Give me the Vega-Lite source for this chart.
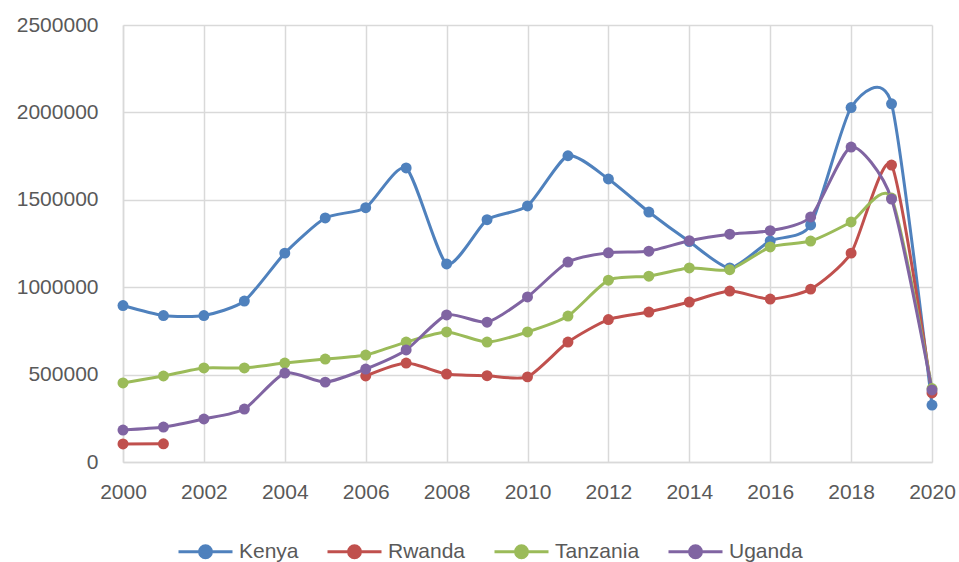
{
  "$schema": "https://vega.github.io/schema/vega-lite/v6.json",
  "width": 809,
  "height": 437,
  "autosize": {"type": "none"},
  "padding": {"left": 123, "top": 25, "right": 27, "bottom": 100},
  "background": "white",
  "config": {
    "view": {"stroke": null},
    "axis": {
      "labelFont": "Liberation Sans",
      "labelFontSize": 21,
      "labelColor": "#595959",
      "gridColor": "#d9d9d9",
      "gridWidth": 1.5,
      "domainColor": "#d9d9d9",
      "domainWidth": 1.5,
      "ticks": false,
      "title": null
    },
    "legend": {
      "labelFont": "Liberation Sans",
      "labelFontSize": 21,
      "labelColor": "#595959"
    }
  },
  "data": {
    "values": [
      {"year": 2000, "country": "Kenya", "visitors": 895000},
      {"year": 2001, "country": "Kenya", "visitors": 838000},
      {"year": 2002, "country": "Kenya", "visitors": 838000},
      {"year": 2003, "country": "Kenya", "visitors": 921000},
      {"year": 2004, "country": "Kenya", "visitors": 1195000},
      {"year": 2005, "country": "Kenya", "visitors": 1396000},
      {"year": 2006, "country": "Kenya", "visitors": 1455000},
      {"year": 2007, "country": "Kenya", "visitors": 1682000},
      {"year": 2008, "country": "Kenya", "visitors": 1133000},
      {"year": 2009, "country": "Kenya", "visitors": 1386000},
      {"year": 2010, "country": "Kenya", "visitors": 1465000},
      {"year": 2011, "country": "Kenya", "visitors": 1752000},
      {"year": 2012, "country": "Kenya", "visitors": 1619000},
      {"year": 2013, "country": "Kenya", "visitors": 1430000},
      {"year": 2014, "country": "Kenya", "visitors": 1261000},
      {"year": 2015, "country": "Kenya", "visitors": 1110000},
      {"year": 2016, "country": "Kenya", "visitors": 1265000},
      {"year": 2017, "country": "Kenya", "visitors": 1356000},
      {"year": 2018, "country": "Kenya", "visitors": 2028000},
      {"year": 2019, "country": "Kenya", "visitors": 2049000},
      {"year": 2020, "country": "Kenya", "visitors": 326000},
      {"year": 2000, "country": "Rwanda", "visitors": 103000},
      {"year": 2001, "country": "Rwanda", "visitors": 104000},
      {"year": 2002, "country": "Rwanda", "visitors": null},
      {"year": 2003, "country": "Rwanda", "visitors": null},
      {"year": 2004, "country": "Rwanda", "visitors": null},
      {"year": 2005, "country": "Rwanda", "visitors": null},
      {"year": 2006, "country": "Rwanda", "visitors": 492000},
      {"year": 2007, "country": "Rwanda", "visitors": 566000},
      {"year": 2008, "country": "Rwanda", "visitors": 503000},
      {"year": 2009, "country": "Rwanda", "visitors": 494000},
      {"year": 2010, "country": "Rwanda", "visitors": 487000},
      {"year": 2011, "country": "Rwanda", "visitors": 686000},
      {"year": 2012, "country": "Rwanda", "visitors": 815000},
      {"year": 2013, "country": "Rwanda", "visitors": 858000},
      {"year": 2014, "country": "Rwanda", "visitors": 915000},
      {"year": 2015, "country": "Rwanda", "visitors": 978000},
      {"year": 2016, "country": "Rwanda", "visitors": 932000},
      {"year": 2017, "country": "Rwanda", "visitors": 989000},
      {"year": 2018, "country": "Rwanda", "visitors": 1195000},
      {"year": 2019, "country": "Rwanda", "visitors": 1699000},
      {"year": 2020, "country": "Rwanda", "visitors": 395000},
      {"year": 2000, "country": "Tanzania", "visitors": 452000},
      {"year": 2001, "country": "Tanzania", "visitors": 492000},
      {"year": 2002, "country": "Tanzania", "visitors": 538000},
      {"year": 2003, "country": "Tanzania", "visitors": 538000},
      {"year": 2004, "country": "Tanzania", "visitors": 566000},
      {"year": 2005, "country": "Tanzania", "visitors": 589000},
      {"year": 2006, "country": "Tanzania", "visitors": 612000},
      {"year": 2007, "country": "Tanzania", "visitors": 686000},
      {"year": 2008, "country": "Tanzania", "visitors": 744000},
      {"year": 2009, "country": "Tanzania", "visitors": 686000},
      {"year": 2010, "country": "Tanzania", "visitors": 744000},
      {"year": 2011, "country": "Tanzania", "visitors": 835000},
      {"year": 2012, "country": "Tanzania", "visitors": 1040000},
      {"year": 2013, "country": "Tanzania", "visitors": 1063000},
      {"year": 2014, "country": "Tanzania", "visitors": 1110000},
      {"year": 2015, "country": "Tanzania", "visitors": 1100000},
      {"year": 2016, "country": "Tanzania", "visitors": 1230000},
      {"year": 2017, "country": "Tanzania", "visitors": 1264000},
      {"year": 2018, "country": "Tanzania", "visitors": 1373000},
      {"year": 2019, "country": "Tanzania", "visitors": 1510000},
      {"year": 2020, "country": "Tanzania", "visitors": 420000},
      {"year": 2000, "country": "Uganda", "visitors": 183000},
      {"year": 2001, "country": "Uganda", "visitors": 200000},
      {"year": 2002, "country": "Uganda", "visitors": 246000},
      {"year": 2003, "country": "Uganda", "visitors": 303000},
      {"year": 2004, "country": "Uganda", "visitors": 509000},
      {"year": 2005, "country": "Uganda", "visitors": 457000},
      {"year": 2006, "country": "Uganda", "visitors": 532000},
      {"year": 2007, "country": "Uganda", "visitors": 641000},
      {"year": 2008, "country": "Uganda", "visitors": 841000},
      {"year": 2009, "country": "Uganda", "visitors": 800000},
      {"year": 2010, "country": "Uganda", "visitors": 944000},
      {"year": 2011, "country": "Uganda", "visitors": 1144000},
      {"year": 2012, "country": "Uganda", "visitors": 1197000},
      {"year": 2013, "country": "Uganda", "visitors": 1206000},
      {"year": 2014, "country": "Uganda", "visitors": 1266000},
      {"year": 2015, "country": "Uganda", "visitors": 1303000},
      {"year": 2016, "country": "Uganda", "visitors": 1323000},
      {"year": 2017, "country": "Uganda", "visitors": 1402000},
      {"year": 2018, "country": "Uganda", "visitors": 1802000},
      {"year": 2019, "country": "Uganda", "visitors": 1504000},
      {"year": 2020, "country": "Uganda", "visitors": 412000}
    ]
  },
  "encoding": {
    "x": {
      "field": "year",
      "type": "quantitative",
      "scale": {"domain": [2000, 2020], "nice": false, "zero": false},
      "axis": {
        "values": [2000, 2002, 2004, 2006, 2008, 2010, 2012, 2014, 2016, 2018, 2020],
        "format": "d",
        "labelPadding": 19,
        "labelFlush": false
      }
    },
    "y": {
      "field": "visitors",
      "type": "quantitative",
      "scale": {"domain": [0, 2500000], "nice": false},
      "axis": {
        "values": [0, 500000, 1000000, 1500000, 2000000, 2500000],
        "format": "d",
        "labelPadding": 25
      }
    },
    "color": {
      "field": "country",
      "type": "nominal",
      "scale": {
        "domain": ["Kenya", "Rwanda", "Tanzania", "Uganda"],
        "range": ["#4f81bd", "#c0504d", "#9bbb59", "#8064a2"]
      },
      "legend": {
        "title": null,
        "orient": "none",
        "direction": "horizontal",
        "legendX": 54,
        "legendY": 498,
        "symbolType": "M-1,0H1M0.22,0A0.22,0.22,0,1,1,-0.22,0A0.22,0.22,0,1,1,0.22,0Z",
        "symbolSize": 2916,
        "symbolStrokeWidth": 3,
        "symbolOpacity": 1,
        "labelOffset": 5,
        "columnPadding": 22,
        "encode": {
          "symbols": {
            "update": {
              "fill": {"scale": "color", "field": "value"},
              "stroke": {"scale": "color", "field": "value"},
              "opacity": {"value": 1}
            }
          }
        }
      }
    }
  },
  "layer": [
    {
      "mark": {
        "type": "line",
        "strokeWidth": 3,
        "interpolate": "cardinal",
        "tension": 0.35,
        "invalid": "break-paths-filter-domains"
      }
    },
    {
      "mark": {"type": "point", "filled": true, "size": 120, "opacity": 1}
    }
  ]
}
